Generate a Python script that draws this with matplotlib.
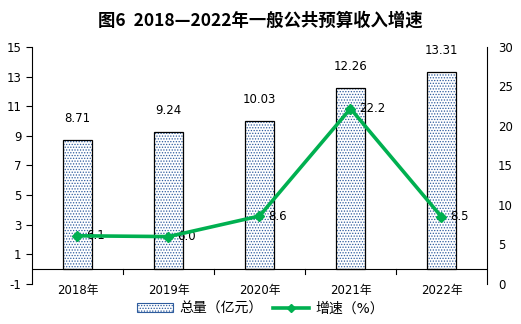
import numpy as np
import matplotlib.pyplot as plt
from matplotlib.lines import Line2D
from matplotlib.patches import Patch

plt.rcParams['font.family'] = ['DejaVu Sans', 'Noto Sans CJK SC']
plt.rcParams['hatch.linewidth'] = 0.6
plt.rcParams['axes.unicode_minus'] = False

years = ['2018年', '2019年', '2020年', '2021年', '2022年']
total = [8.71, 9.24, 10.03, 12.26, 13.31]      # 亿元
growth = [6.1, 6.0, 8.6, 22.2, 8.5]            # %
green = '#00B050'
dot_blue = '#2E5C9E'

fig = plt.figure(figsize=(5.21, 3.24), dpi=100)
ax = fig.add_axes([0.0614, 0.1235, 0.8733, 0.7315])
x = np.arange(len(years))

# bars: blue dot fill, then black outline on top
ax.bar(x, total, width=0.31, color='white', edgecolor=dot_blue, hatch='......', linewidth=0, zorder=2)
ax.bar(x, total, width=0.31, fill=False, edgecolor='black', linewidth=0.9, zorder=3)
for xi, v in zip(x, total):
    ax.text(xi, v + 1.0, f'{v:.2f}', ha='center', va='bottom', fontsize=8.5)

ax.set_xlim(-0.5, 4.5)
ax.set_ylim(-1, 15)
ax.set_yticks(np.arange(-1, 16, 2))
ax.tick_params(axis='y', labelsize=8.5, length=4, direction='out', width=0.8)
ax.set_xticks(x)
ax.set_xticklabels(years, fontsize=8.5)
ax.tick_params(axis='x', length=0, pad=0)
for s in ['top', 'right', 'bottom']:
    ax.spines[s].set_visible(False)
ax.spines['left'].set_linewidth(0.8)
ax.axhline(0, color='black', linewidth=0.8, zorder=4)
for b in np.arange(0.5, 4.5, 1):
    ax.plot([b, b], [0, -0.35], color='black', linewidth=0.8, clip_on=False)

ax2 = ax.twinx()
ax2.set_ylim(0, 30)
ax2.set_yticks(np.arange(0, 31, 5))
ax2.tick_params(axis='y', labelsize=8.5, length=0, pad=8)
for s in ['top', 'left', 'bottom']:
    ax2.spines[s].set_visible(False)
ax2.spines['right'].set_linewidth(0.8)
ax2.plot(x, growth, color=green, linewidth=2.6, marker='D', markersize=5.5, zorder=5)
for xi, v in zip(x, growth):
    ax2.text(xi + 0.1, v, f'{v:.1f}', ha='left', va='center', fontsize=8.5)

fig.text(0.5, 0.935, '图6  2018—2022年一般公共预算收入增速', ha='center', va='center',
         fontsize=12.5, fontweight='bold', family=['Noto Sans CJK SC'])

handles = [Patch(facecolor='white', edgecolor=dot_blue, hatch='......', linewidth=0.8),
           Line2D([0], [0], color=green, linewidth=2.6, marker='D', markersize=4.5)]
leg = fig.legend(handles, ['总量（亿元）', '增速（%）'], loc='center', bbox_to_anchor=(0.5, 0.048),
                 ncol=2, frameon=False, handlelength=2.6, columnspacing=0.8,
                 handletextpad=0.4, prop={'family': ['DejaVu Sans', 'Noto Sans CJK SC'], 'size': 10})

fig.savefig('out.png', dpi=100)
